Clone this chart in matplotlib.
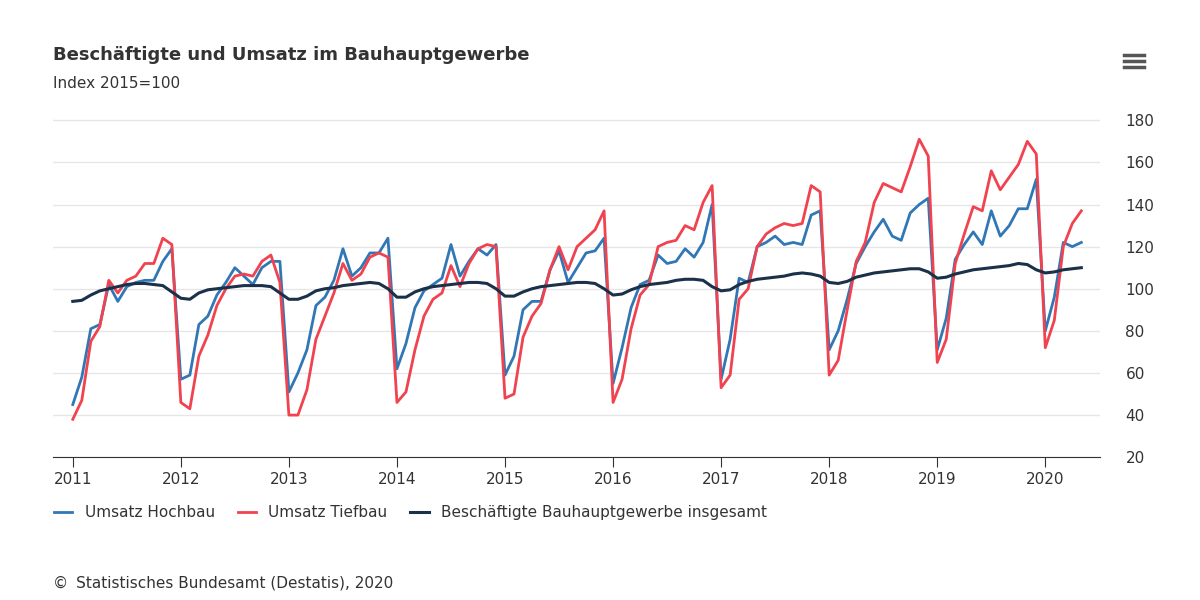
import matplotlib.pyplot as plt
import numpy as np
from matplotlib.lines import Line2D

hochbau = [
    45, 58, 81, 83, 102, 94, 101, 103, 104, 104, 113, 119,
    57, 59, 83, 87, 97, 103, 110, 106, 102, 110, 113, 113,
    51, 60, 71, 92, 96, 104, 119, 106, 110, 117, 117, 124,
    62, 74, 91, 99, 102, 105, 121, 106, 113, 119, 116, 121,
    59, 68, 90, 94, 94, 109, 118, 103, 110, 117, 118, 124,
    55, 72, 91, 102, 104, 116, 112, 113, 119, 115, 122, 140,
    57, 76, 105, 103, 120, 122, 125, 121, 122, 121, 135, 137,
    71, 80, 95, 112, 120, 127, 133, 125, 123, 136, 140, 143,
    71, 86, 114, 121, 127, 121, 137, 125, 130, 138, 138, 152,
    80, 96, 122, 120, 122,
]
tiefbau = [
    38, 47, 75, 82, 104, 98, 104, 106, 112, 112, 124, 121,
    46, 43, 68, 78, 92, 100, 106, 107, 106, 113, 116, 103,
    40, 40, 52, 76, 87, 98, 112, 104, 107, 115, 117, 115,
    46, 51, 71, 87, 95, 98, 111, 101, 112, 119, 121, 120,
    48, 50, 77, 87, 93, 109, 120, 109, 120, 124, 128, 137,
    46, 57, 81, 97, 102, 120, 122, 123, 130, 128, 141, 149,
    53, 59, 95, 100, 120, 126, 129, 131, 130, 131, 149, 146,
    59, 66, 90, 113, 122, 141, 150, 148, 146, 158, 171, 163,
    65, 76, 112, 126, 139, 137, 156, 147, 153, 159, 170, 164,
    72, 85, 120, 131, 137,
]
beschaeftigte = [
    94, 94.5, 97, 99, 100, 101, 102, 102.5, 102.5, 102, 101.5, 98.5,
    95.5, 95, 98, 99.5, 100, 100.5, 101, 101.5, 101.5, 101.5, 101, 98,
    95, 95, 96.5, 99, 100, 100.5, 101.5, 102, 102.5, 103, 102.5, 100,
    96, 96, 98.5, 100, 101, 101.5, 102, 102.5, 103, 103, 102.5, 100,
    96.5, 96.5, 98.5, 100, 101, 101.5, 102, 102.5, 103, 103, 102.5, 100,
    97, 97.5, 99.5, 101, 102, 102.5, 103, 104, 104.5, 104.5, 104, 101,
    99, 99.5, 102, 103.5, 104.5, 105, 105.5, 106, 107, 107.5, 107, 106,
    103, 102.5, 103.5, 105.5, 106.5, 107.5, 108, 108.5, 109, 109.5, 109.5, 108,
    105, 105.5, 107, 108, 109, 109.5, 110, 110.5, 111, 112, 111.5, 109,
    107.5, 108, 109, 109.5, 110,
]
jahre = list(range(2011, 2021))

zeit = 2011 + np.arange(len(hochbau)) / 12

fig = plt.figure(figsize=(12, 6), dpi=100)
ax = fig.add_axes([0.044, 0.238, 0.873, 0.565])

ax.plot(zeit, hochbau, color='#3277b5', lw=2.0, label='Umsatz Hochbau')
ax.plot(zeit, tiefbau, color='#f0434f', lw=2.0, label='Umsatz Tiefbau')
ax.plot(zeit, beschaeftigte, color='#1b3049', lw=2.2,
        label='Beschäftigte Bauhauptgewerbe insgesamt')

ax.set_xlim(2010.815, 2020.51)
ax.set_ylim(20, 181)
ax.set_yticks(range(20, 181, 20))
ax.set_xticks(jahre)
ax.yaxis.tick_right()
ax.grid(axis='y', color='#e6e6e6', lw=1)
ax.set_axisbelow(True)
for s in ['top', 'left', 'right']:
    ax.spines[s].set_visible(False)
ax.spines['bottom'].set_color('#333333')
ax.tick_params(axis='y', length=0, labelsize=11, colors='#333333', pad=18)
ax.tick_params(axis='x', length=7, color='#333333', labelsize=11,
               labelcolor='#333333')

fig.text(0.044, 0.9, 'Beschäftigte und Umsatz im Bauhauptgewerbe',
         fontsize=13, fontweight='bold', color='#333333')
fig.text(0.044, 0.853, 'Index 2015=100', fontsize=11, color='#333333')
fig.text(0.044, 0.02, '© \u2009Statistisches Bundesamt (Destatis), 2020',
         fontsize=11, color='#333333')
for y in [0.908, 0.898, 0.888]:
    fig.add_artist(Line2D([0.937, 0.953], [y, y], color='#555555', lw=2.5))

ax.legend(loc='upper left', bbox_to_anchor=(-0.012, -0.1), ncol=3,
          frameon=False, fontsize=11, handlelength=1.2, columnspacing=1.5,
          labelcolor='#333333')

fig.savefig('out.png', dpi=100)
